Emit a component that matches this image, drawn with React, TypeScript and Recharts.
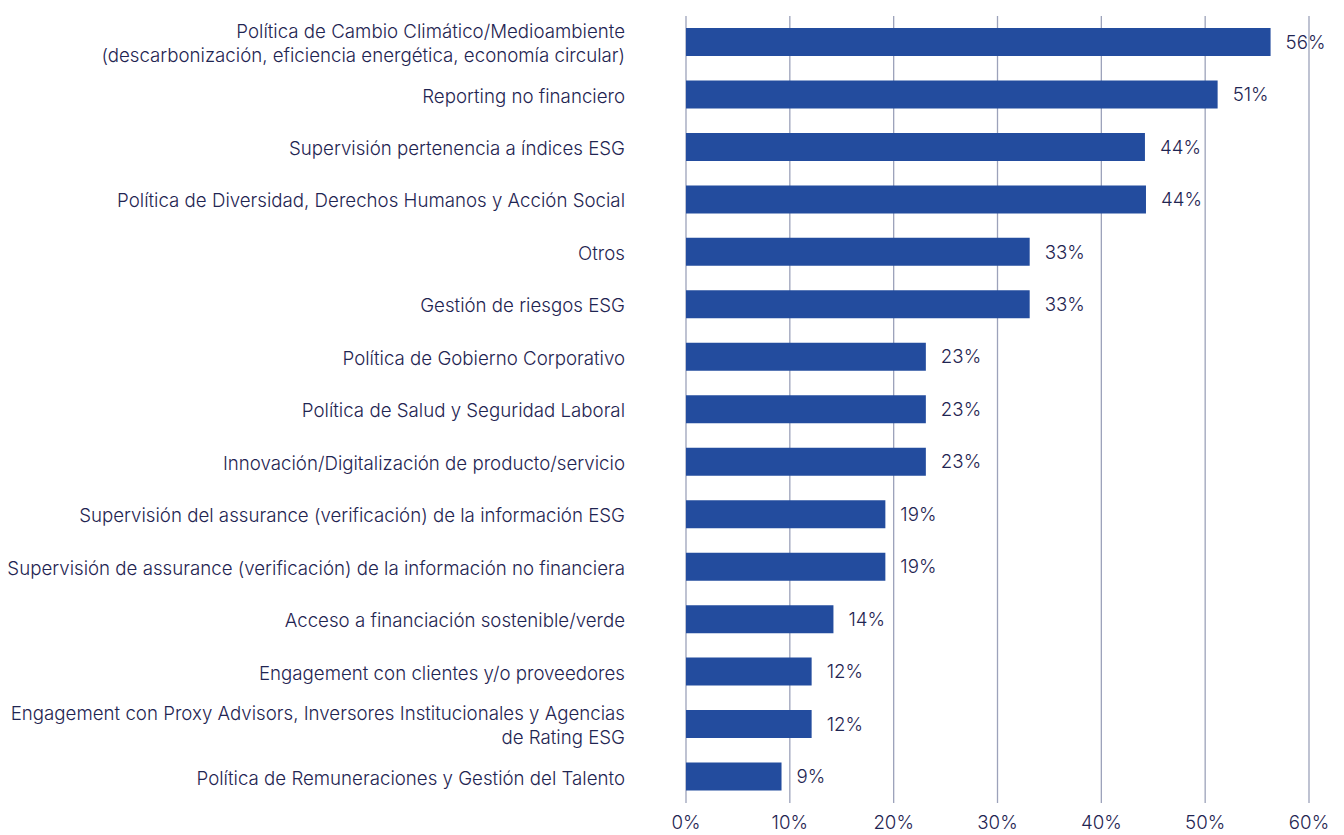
import { BarChart, Bar, XAxis, YAxis, CartesianGrid, LabelList } from 'recharts'

const categories = [
  'Política de Cambio Climático/Medioambiente\n(descarbonización, eficiencia energética, economía circular)',
  'Reporting no financiero',
  'Supervisión pertenencia a índices ESG',
  'Política de Diversidad, Derechos Humanos y Acción Social',
  'Otros',
  'Gestión de riesgos ESG',
  'Política de Gobierno Corporativo',
  'Política de Salud y Seguridad Laboral',
  'Innovación/Digitalización de producto/servicio',
  'Supervisión del assurance (verificación) de la información ESG',
  'Supervisión de assurance (verificación) de la información no financiera',
  'Acceso a financiación sostenible/verde',
  'Engagement con clientes y/o proveedores',
  'Engagement con Proxy Advisors, Inversores Institucionales y Agencias\nde Rating ESG',
  'Política de Remuneraciones y Gestión del Talento'
]

const values = [56.3, 51.2, 44.2, 44.3, 33.1, 33.1, 23.1, 23.1, 23.1, 19.2, 19.2, 14.2, 12.1, 12.1, 9.2]
const labels = ['56%', '51%', '44%', '44%', '33%', '33%', '23%', '23%', '23%', '19%', '19%', '14%', '12%', '12%', '9%']
const xTicks = [0, 10, 20, 30, 40, 50, 60]

const TEXT = '#1f2552'
const BAR = '#234c9e'
const GRID = '#9ca2ba'
const FONT = 'Inter, "Noto Sans", sans-serif'
const FS = 18.7

const data = categories.map((name, i) => ({ name, value: values[i], label: labels[i] }))

const CategoryTick = ({ x, y, payload }: any) => {
  const lines = String(payload.value).split('\n')
  const lineH = 23.5
  const start = -((lines.length - 1) * lineH) / 2
  return (
    <text x={x - 53} y={y} textAnchor="end" fill={TEXT} fontSize={FS} fontWeight={300} fontFamily={FONT}>
      {lines.map((l, i) => (
        <tspan key={i} x={x - 53} y={y + start + i * lineH} dy="0.42em">
          {l}
        </tspan>
      ))}
    </text>
  )
}

export default function App() {
  return (
    <div style={{ position: 'absolute', left: 0, top: 0, background: '#fff' }}>
      <BarChart
        width={1344}
        height={835}
        data={data}
        layout="vertical"
        margin={{ top: 16, right: 35, bottom: 0, left: 0 }}
      >
        <CartesianGrid horizontal={false} stroke={GRID} strokeWidth={1.3} />
        <XAxis
          type="number"
          domain={[0, 60]}
          ticks={xTicks}
          tickFormatter={(v) => `${v}%`}
          axisLine={false}
          tickLine={false}
          height={32}
          tickMargin={7}
          tick={{ fill: TEXT, fontSize: FS, fontWeight: 300, fontFamily: FONT }}
        />
        <YAxis
          type="category"
          dataKey="name"
          width={686}
          axisLine={false}
          tickLine={false}
          interval={0}
          tick={<CategoryTick />}
        />
        <Bar dataKey="value" fill={BAR} barSize={28} isAnimationActive={false}>
          <LabelList
            dataKey="label"
            position="right"
            offset={15}
            fill={TEXT}
            fontSize={FS}
            fontWeight={300}
            fontFamily={FONT}
          />
        </Bar>
      </BarChart>
    </div>
  )
}
